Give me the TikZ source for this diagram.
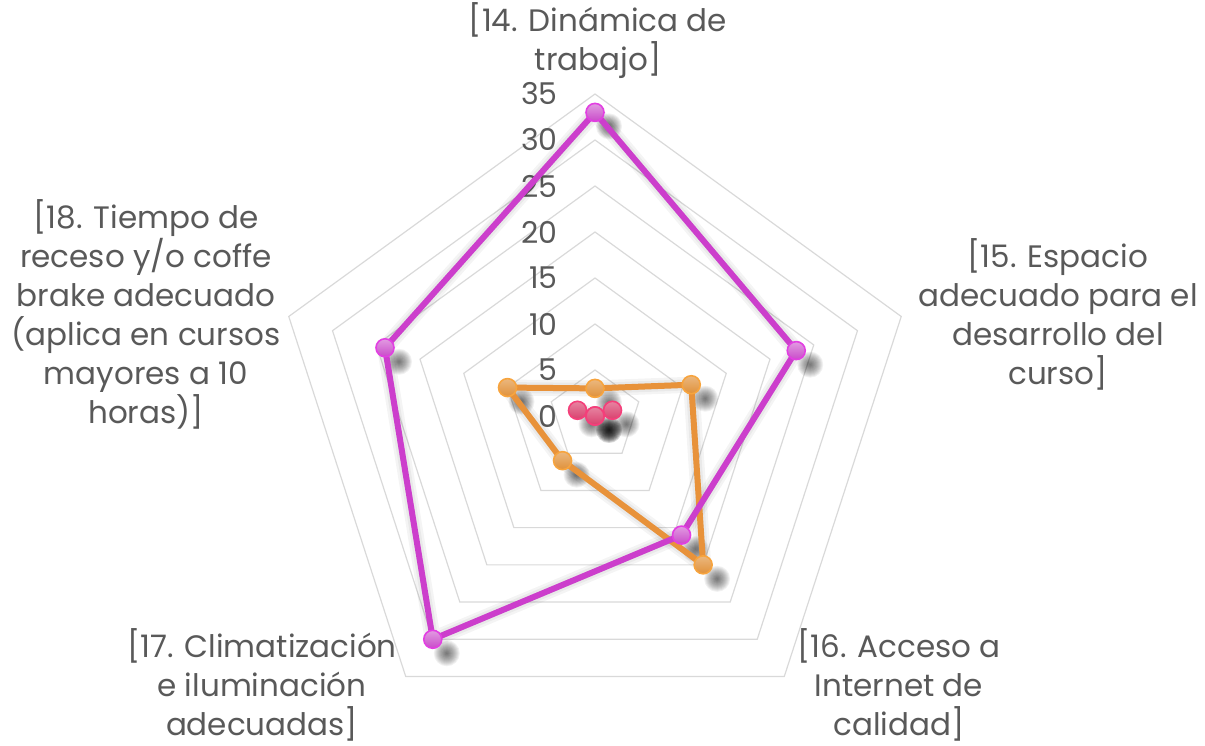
\documentclass[tikz,border=0pt]{standalone}
\usepackage{fontspec}
\setmainfont{Poppins}
\usetikzlibrary{positioning}
\definecolor{txtgray}{HTML}{595959}
\definecolor{gridgray}{HTML}{D9D9D9}
\definecolor{magline}{HTML}{CC3ECC}
\definecolor{magdot}{HTML}{C94AC9}
\definecolor{magrim}{HTML}{E23FE2}
\definecolor{orline}{HTML}{E8923A}
\definecolor{ordot}{HTML}{E0913A}
\definecolor{orrim}{HTML}{F7A43E}
\definecolor{pkline}{HTML}{E24D7C}
\definecolor{pkdot}{HTML}{D9416E}
\definecolor{pkrim}{HTML}{F43F7A}
\newcommand{\unit}{9.2}
\newcommand{\dotshadow}[1]{%
  \foreach \s in {1,...,13}
    {\fill[black,opacity=0.055] ([shift={(14,-14)}]#1) circle (\s);}}
\tikzset{
  ring/.style={draw=gridgray, line width=1.2pt},
  tick/.style={text=txtgray, font=\fontsize{30}{30}\selectfont, anchor=east, inner sep=0pt},
  axislabel/.style={text=txtgray, font=\fontsize{31}{39}\selectfont, align=center, inner sep=0pt},
  serie/.style={line width=6pt, line join=round},
  lineshadow/.style={line join=round, black, opacity=0.045, shift={(6,-6)}},
  dot/.style={circle, minimum size=18pt, inner sep=0pt, line width=1.6pt},
  magdotstyle/.style={dot, draw=magrim, top color=magdot!55!white, bottom color=magdot},
  ordotstyle/.style={dot, draw=orrim, top color=ordot!65!white, bottom color=ordot},
  pkdotstyle/.style={dot, draw=pkrim, top color=pkdot!65!white, bottom color=pkdot}
}

\begin{document}
\begin{tikzpicture}[x=1pt,y=1pt]
  \useasboundingbox (0,0) rectangle (1205,745);

  % axis labels
  \node[axislabel] (l14) at (598,704) {[14. Dinámica de\\trabajo]};
  \node[axislabel] (l15) at (1058,431) {[15. Espacio\\adecuado para el\\desarrollo del\\curso]};
  \node[axislabel] (l16) at (899,60) {[16. Acceso a\\Internet de\\calidad]};
  \node[axislabel] (l17) at (262,60) {[17. Climatización\\e iluminación\\adecuadas]};
  \node[axislabel] (l18) at (146,431) {[18. Tiempo de\\receso y/o coffe\\brake adecuado\\(aplica en cursos\\mayores a 10\\horas)]};

  \begin{scope}[shift={(595,329)}]
    % rings
    \foreach \r in {5,10,...,35}
      \draw[ring] (90:{\r*\unit}) -- (18:{\r*\unit}) -- (-54:{\r*\unit})
        -- (-126:{\r*\unit}) -- (162:{\r*\unit}) -- cycle;
    \foreach \r in {0,5,...,35}
      \node[tick] (t\r) at (-37,{\r*\unit}) {\r};

    % data points
    \foreach \a/\v [count=\i] in {90/0,18/2,-54/0,-126/0,162/2}
      \coordinate (pk\i) at (\a:{\v*\unit});
    \foreach \a/\v [count=\i] in {90/3,18/11,-54/20,-126/6,162/10}
      \coordinate (or\i) at (\a:{\v*\unit});
    \foreach \a/\v [count=\i] in {90/33,18/23,-54/16,-126/30,162/24}
      \coordinate (mag\i) at (\a:{\v*\unit});

    % shadows
    \foreach \n in {pk,or,mag}{
      \foreach \w in {16,11,6}
        {\draw[lineshadow, line width=\w pt] (\n1) -- (\n2) -- (\n3) -- (\n4) -- (\n5) -- cycle;}
      \foreach \i in {1,...,5}
        {\dotshadow{\n\i}}
    }

    % series
    \draw[serie, pkline] (pk1) -- (pk2) -- (pk3) -- (pk4) -- (pk5) -- cycle;
    \foreach \i in {1,...,5}
      \node[pkdotstyle] (pkd\i) at (pk\i) {};
    \draw[serie, orline] (or1) -- (or2) -- (or3) -- (or4) -- (or5) -- cycle;
    \foreach \i in {1,...,5}
      \node[ordotstyle] (ord\i) at (or\i) {};
    \draw[serie, magline] (mag1) -- (mag2) -- (mag3) -- (mag4) -- (mag5) -- cycle;
    \foreach \i in {1,...,5}
      \node[magdotstyle] (magd\i) at (mag\i) {};
  \end{scope}
\end{tikzpicture}
\end{document}
